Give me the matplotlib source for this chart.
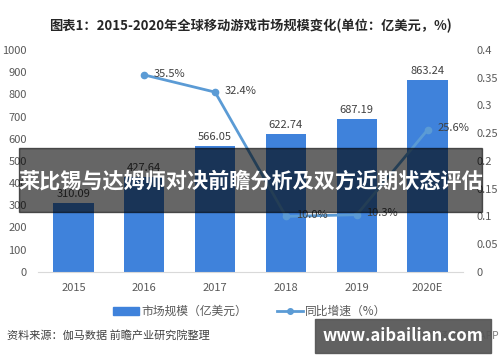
import matplotlib.pyplot as plt
from matplotlib.patches import Rectangle
from matplotlib.lines import Line2D

plt.rcParams['font.family'] = ['Noto Sans CJK SC', 'DejaVu Sans']

years = ['2015', '2016', '2017', '2018', '2019', '2020E']
market = [310.09, 427.64, 566.05, 622.74, 687.19, 863.24]
growth_years = [1, 2, 3, 4, 5]
growth = [0.355, 0.324, 0.100, 0.103, 0.256]
growth_labels = ['35.5%', '32.4%', '10.0%', '10.3%', '25.6%']

bar_color = '#3F82DB'
line_color = '#5B9BD5'
txt = '#595959'

fig = plt.figure(figsize=(5, 3.62), dpi=100)
ax = fig.add_axes([0.076, 0.249, 0.85, 0.613])
ax2 = ax.twinx()

x = list(range(len(years)))
ax.bar(x, market, width=0.57, color=bar_color, zorder=2)
for xi, v in zip(x, market):
    ax.text(xi, v + 18, f'{v:.2f}', ha='center', va='bottom', fontsize=8, color='#404040')

ax.set_xlim(-0.5, 5.5)
ax.set_ylim(0, 1000)
ax.set_yticks(range(0, 1001, 100))
ax.set_xticks(x)
ax.set_xticklabels(years)
ax.tick_params(length=0, labelsize=8, colors=txt, pad=8)
for s in ['top', 'right', 'left']:
    ax.spines[s].set_visible(False)
ax.spines['bottom'].set_color('#d9d9d9')

ax2.plot(growth_years, growth, color=line_color, lw=2, marker='o', ms=4.5, zorder=3)
for xi, v, lab in zip(growth_years, growth, growth_labels):
    ax2.annotate(lab, (xi, v), xytext=(7, 1), textcoords='offset points',
                 ha='left', va='center', fontsize=8, color='#404040')
ax2.set_ylim(0, 0.4)
ax2.set_yticks([0, 0.05, 0.1, 0.15, 0.2, 0.25, 0.3, 0.35, 0.4])
ax2.set_yticklabels(['0', '0.05', '0.1', '0.15', '0.2', '0.25', '0.3', '0.35', '0.4'])
ax2.tick_params(length=0, labelsize=8, colors=txt, pad=10)
for s in ax2.spines.values():
    s.set_visible(False)

fig.text(0.5, 0.928, '图表1：2015-2020年全球移动游戏市场规模变化(单位：亿美元，%)',
         ha='center', va='center', fontsize=9.5, fontweight='bold', color='#262626')

handles = [Rectangle((0, 0), 1, 1, color=bar_color),
           Line2D([0], [0], color=line_color, lw=2, marker='o', ms=4)]
fig.legend(handles, ['市场规模（亿美元）', '同比增速（%）'], loc='center',
           bbox_to_anchor=(0.5, 0.139), ncol=2, frameon=False, fontsize=8.5,
           labelcolor=txt, handlelength=2.2, columnspacing=2.5, handletextpad=0.2)

fig.text(0.014, 0.072, '资料来源：伽马数据 前瞻产业研究院整理', ha='left', va='center',
         fontsize=8, color='#404040')
fig.text(0.998, 0.072, '前瞻经济学人APP', ha='right', va='center', fontsize=7.5, color='#808080')

# dark banner across the middle
fig.patches.append(Rectangle((0.038, 1 - 212 / 362), 0.926, 64 / 362, transform=fig.transFigure,
                             color='black', alpha=0.6, zorder=10))
fig.text(0.501, 1 - 181 / 362, '莱比锡与达姆师对决前瞻分析及双方近期状态评估', ha='center', va='center',
         fontsize=15.2, fontweight='bold', color='white', zorder=11)

# site box bottom right
fig.patches.append(Rectangle((315 / 500, 1 - 353 / 362), 176 / 500, 34 / 362, transform=fig.transFigure,
                             color='#555555', alpha=0.93, zorder=10))
fig.text(403 / 500, 1 - 336 / 362, 'www.aibailian.com', ha='center', va='center',
         fontsize=12, fontweight='bold', color='white', zorder=11)

fig.savefig('out.png', dpi=100)
